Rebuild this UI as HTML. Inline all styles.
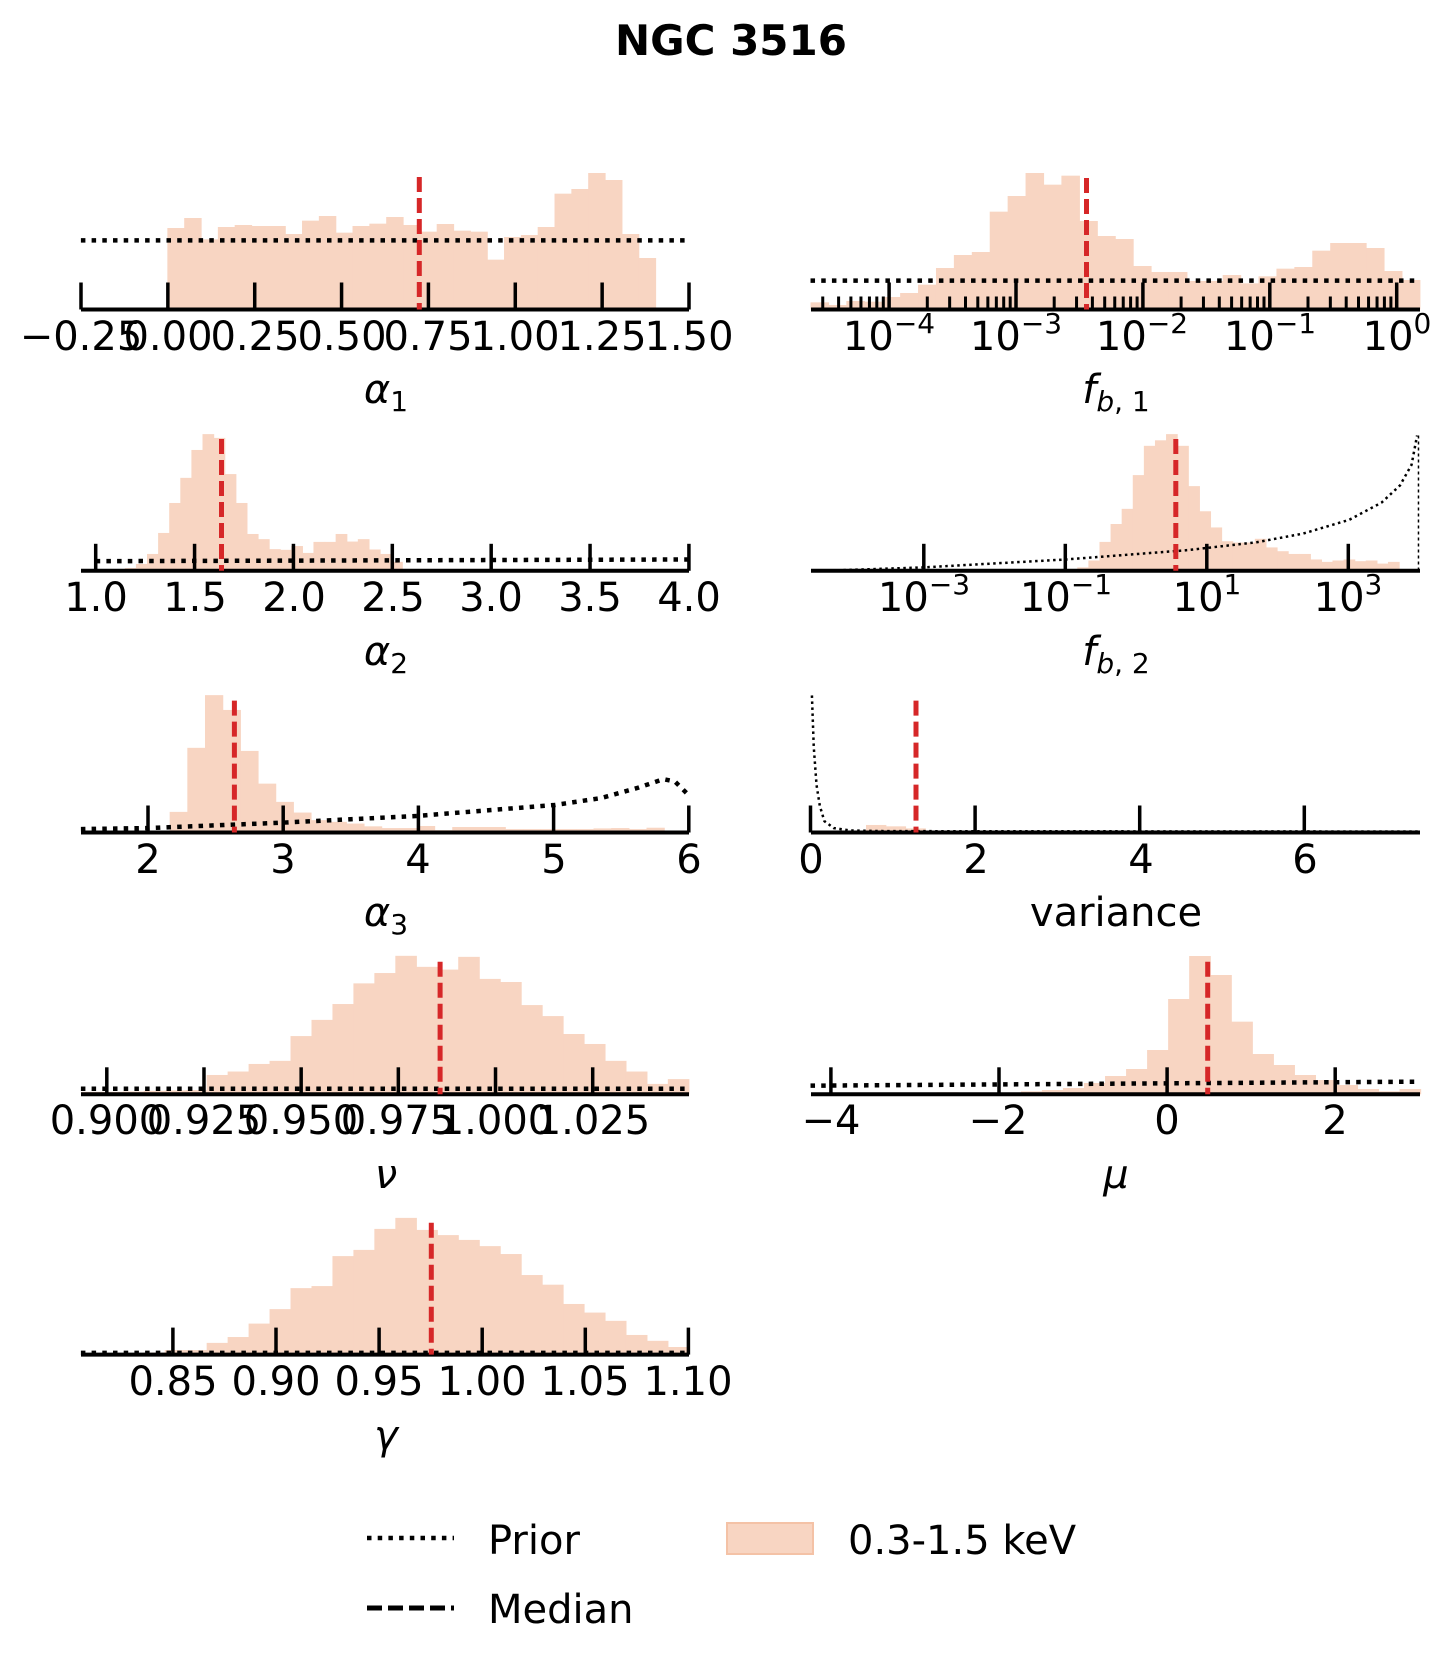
<!DOCTYPE html>
<html><head><meta charset="utf-8"><style>
html,body{margin:0;padding:0;background:#fff;}
svg{display:block;font-family:"DejaVu Sans","Liberation Sans",sans-serif;}
.t{font-size:40px;text-anchor:middle;fill:#000;}
.l{font-size:40px;text-anchor:middle;fill:#000;}
.g{font-style:italic;}
</style></head><body>
<svg id="s" xmlns="http://www.w3.org/2000/svg" width="1451" height="1668" viewBox="0 0 1451 1668">
<rect width="1451" height="1668" fill="#fff"/>
<g id="plots"></g>
<text x="731" y="55" style="font-size:42px;font-weight:bold;text-anchor:middle">NGC 3516</text>

<g class="t">
<text x="81" y="350">−0.25</text><text x="168" y="350">0.00</text><text x="255" y="350">0.25</text><text x="342" y="350">0.50</text><text x="428" y="350">0.75</text><text x="515" y="350">1.00</text><text x="602" y="350">1.25</text><text x="689" y="350">1.50</text>
</g>
<text class="l" x="386" y="403"><tspan class="g">α</tspan><tspan font-size="28" dy="8">1</tspan></text>
<g class="t">
<text x="889" y="350">10<tspan font-size="28" dy="-17">−4</tspan></text>
<text x="1016" y="350">10<tspan font-size="28" dy="-17">−3</tspan></text>
<text x="1142" y="350">10<tspan font-size="28" dy="-17">−2</tspan></text>
<text x="1270" y="350">10<tspan font-size="28" dy="-17">−1</tspan></text>
<text x="1397" y="350">10<tspan font-size="28" dy="-17">0</tspan></text>
</g>
<text class="l" x="1116" y="403"><tspan class="g">f</tspan><tspan font-size="28" dy="8" class="g">b</tspan><tspan font-size="28">, 1</tspan></text>
<g class="t">
<text x="96" y="611">1.0</text><text x="195" y="611">1.5</text><text x="294" y="611">2.0</text><text x="393" y="611">2.5</text><text x="491" y="611">3.0</text><text x="590" y="611">3.5</text><text x="689" y="611">4.0</text>
</g>
<text class="l" x="386" y="665"><tspan class="g">α</tspan><tspan font-size="28" dy="8">2</tspan></text>
<g class="t">
<text x="924" y="611">10<tspan font-size="28" dy="-17">−3</tspan></text>
<text x="1066" y="611">10<tspan font-size="28" dy="-17">−1</tspan></text>
<text x="1207" y="611">10<tspan font-size="28" dy="-17">1</tspan></text>
<text x="1348" y="611">10<tspan font-size="28" dy="-17">3</tspan></text>
</g>
<text class="l" x="1116" y="665"><tspan class="g">f</tspan><tspan font-size="28" dy="8" class="g">b</tspan><tspan font-size="28">, 2</tspan></text>
<g class="t">
<text x="148" y="873">2</text><text x="283" y="873">3</text><text x="418" y="873">4</text><text x="554" y="873">5</text><text x="689" y="873">6</text>
</g>
<text class="l" x="386" y="926"><tspan class="g">α</tspan><tspan font-size="28" dy="8">3</tspan></text>
<g class="t">
<text x="811" y="873">0</text><text x="976" y="873">2</text><text x="1141" y="873">4</text><text x="1305" y="873">6</text>
</g>
<text class="l" x="1116" y="926">variance</text>
<g class="t">
<text x="107" y="1134">0.900</text><text x="204" y="1134">0.925</text><text x="301" y="1134">0.950</text><text x="398" y="1134">0.975</text><text x="496" y="1134">1.000</text><text x="593" y="1134">1.025</text>
</g>
<text class="l g" x="386" y="1188">ν</text>
<g class="t">
<text x="831" y="1134">−4</text><text x="998" y="1134">−2</text><text x="1167" y="1134">0</text><text x="1335" y="1134">2</text>
</g>
<text class="l g" x="1116" y="1188">μ</text>
<g class="t">
<text x="173" y="1395">0.85</text><text x="276" y="1395">0.90</text><text x="379" y="1395">0.95</text><text x="482" y="1395">1.00</text><text x="585" y="1395">1.05</text><text x="688" y="1395">1.10</text>
</g>
<text class="l g" x="386" y="1449">γ</text>

<line x1="367" y1="1538" x2="454" y2="1538" stroke="#000" stroke-width="4.5" stroke-dasharray="4.5,6.2"/>
<text x="488" y="1554" style="font-size:40px">Prior</text>
<line x1="367" y1="1608" x2="454" y2="1608" stroke="#000" stroke-width="5" stroke-dasharray="15,6"/>
<text x="488" y="1623" style="font-size:40px">Median</text>
<rect x="727" y="1523" width="86" height="31" fill="#f8d5c2" stroke="#f4c2a6" stroke-width="2"/>
<text x="848" y="1554" style="font-size:40px">0.3-1.5 keV</text>
</svg>
<script>
(function(){
var NS="http://www.w3.org/2000/svg",G=document.getElementById("plots");
function el(n,a){var e=document.createElementNS(NS,n);for(var k in a)e.setAttribute(k,a[k]);G.appendChild(e);return e;}
var FILL="#f8d5c2";
function bars(ox,oy,vs,start,w,tops,base){
  for(var i=0;i<tops.length;i++){
    var x0=ox+(start+i*w)/2.163,x1=ox+(start+(i+1)*w)/2.163,y=oy+tops[i]/vs;
    if(y<base) el("rect",{x:x0,y:y,width:x1-x0+0.6,height:base-y,fill:FILL});
  }
}
function axis(x0,x1,base,ticks,minor){
  el("line",{x1:x0,y1:base,x2:x1,y2:base,stroke:"#000","stroke-width":4});
  ticks.forEach(function(t){el("line",{x1:t,y1:base,x2:t,y2:base-27,stroke:"#000","stroke-width":3.5});});
  (minor||[]).forEach(function(t){el("line",{x1:t,y1:base,x2:t,y2:base-13,stroke:"#000","stroke-width":3});});
}
function prior(pts,ox,oy,vs,thin){
  var d=pts.map(function(p,i){return (i?"L":"M")+(ox+p[0]/2.163)+","+(oy+p[1]/vs);}).join(" ");
  el("path",{d:d,fill:"none",stroke:"#000","stroke-width":thin?2.5:4.5,"stroke-dasharray":thin?"2.5,3.5":"4.5,6.2"});
}
function med(x,y0,y1){el("line",{x1:x,y1:y0,x2:x,y2:y1,stroke:"#d62728","stroke-width":5,"stroke-dasharray":"15,6"});}
function rng(a,s,n){var r=[];for(var i=0;i<n;i++)r.push(a+i*s);return r;}

bars(0,150,3.0,362,36.41,[234,204,268,231,225,228,228,252,212,198,248,228,221,201,225,245,222,242,245,329,261,255,231,131,117,69,90,252,324],309.5);
prior([[175,271],[1490,271]],0,150,3.0);
axis(81,689,309.5,rng(81,86.857,8));
med(419.3,177,309.5);

bars(725,150,3.0,185,38.76,[457,465,453,455,441,429,404,354,315,306,185,138,69,104,77,213,258,267,348,366,366,393,393,375,400,379,356,351,302,279,279,294,363,390],309.5);
prior([[185,392],[1503,392]],725,150,3.0);
var mn=[];for(var d=-5;d<=0;d++)for(var m=2;m<=9;m++){var x=889.1+(d+4+Math.log10(m))*126.9;if(x>811&&x<1420)mn.push(x);}
axis(811,1420,309.5,rng(889.1,126.9,5),mn);
med(1086.5,178,309.5);

bars(0,420,2.904,270,24,[430,418,389,328,241,168,87,41,52,157,241,331,346,375,377,366,386,354,354,331,353,346,376,389,412],570.8);
prior([[207,410],[1490,405]],0,420,2.904);
axis(81,689,570.8,rng(95.7,98.87,7));
med(221.5,439,570.8);

bars(725,420,2.904,762,24,[428,408,354,302,258,160,75,59,41,75,192,265,312,352,356,356,345,370,381,389,389,405,412,408,405,410,408,417,412],570.8);
prior([[230,437],[430,428],[737,405],[1000,378],[1150,355],[1250,330],[1350,290],[1420,240],[1460,190],[1485,130],[1497,45]],725,420,2.904,true);
el("line",{x1:725+1500/2.163,y1:420+45/2.904,x2:725+1500/2.163,y2:570.8,stroke:"#000","stroke-width":1.5,"stroke-dasharray":"3,3"});
axis(811,1420,570.8,rng(923.8,141.5,4));
med(1175.8,439,570.8);

bars(0,420,2.904,367,38.2,[1138,952,799,842,961,1056,1109,1140,1162,1167,1172,1180,1185,1185,1179,1191,1182,1182,1182,1188,1188,1188,1188,1188,1186,1185,1188,1184],832.5);
prior([[175,1188],[320,1185],[600,1170],[900,1150],[1200,1118],[1300,1098],[1380,1068],[1435,1043],[1460,1050],[1490,1090]],0,420,2.904);
axis(81,689,832.5,rng(148,135.2,5));
med(234.4,700.6,832.5);

bars(725,420,2.904,305,42.7,[1176,1180,1186,1192,1193,1194,1194],832.5);
prior([[188,800],[192,950],[198,1060],[205,1120],[215,1165],[235,1185],[270,1192],[350,1194],[1500,1195]],725,420,2.904,true);
axis(811,1420,832.5,rng(810.5,164.6,4));
med(916,700.6,832.5);

bars(0,930,2.904,175,45.34,[470,470,469,467,466,465,421,411,389,380,308,261,215,155,125,75,107,115,78,142,151,218,250,302,331,380,411,447,433],1094.3);
prior([[175,461],[1490,461]],0,930,2.904);
axis(81,689,1094.3,rng(106.8,97.18,6));
med(440.1,961.7,1094.3);

bars(725,930,3.0,458,45.5,[487,490,490,488,484,480,474,459,438,417,360,207,78,135,275,372,405,435,450,465,477,484,477],1094.3);
prior([[185,467],[1500,455]],725,930,3.0);
axis(811,1420,1094.3,rng(830.9,168.1,4));
med(1207.7,961.7,1094.3);

bars(0,930,2.904,175,45.34,[1231,1231,1230,1227,1220,1220,1199,1182,1143,1101,1040,1034,947,929,868,836,871,886,900,918,941,1002,1030,1086,1111,1135,1176,1193,1211],1354.6);
prior([[175,1228],[1490,1228]],0,930,2.904);
axis(81,689,1354.6,rng(172.9,103.1,6));
med(431.3,1222.7,1354.6);
})();
</script>
</body></html>
